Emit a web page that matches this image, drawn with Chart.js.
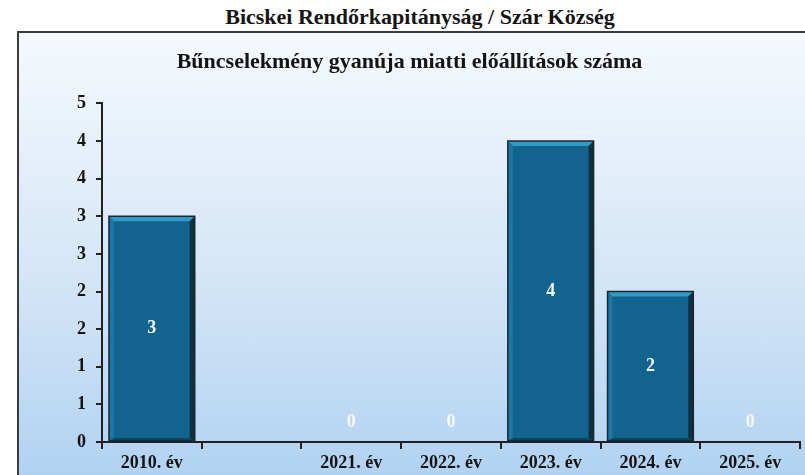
<!DOCTYPE html>
<html lang="hu">
<head>
<meta charset="utf-8">
<script src="https://cdn.jsdelivr.net/npm/chart.js@4.4.1/dist/chart.umd.min.js"></script>
<style>
  html, body { margin: 0; padding: 0; background: #fff; }
  body { width: 805px; height: 475px; position: relative; overflow: hidden; font-family: "Liberation Serif", serif; }
  #pageTitle { position: absolute; left: 0; width: 840px; top: 5px; text-align: center; font-weight: bold; font-size: 22px; line-height: 24px; color: #151515; }
  #frame { position: absolute; left: 17px; top: 31px; width: 800px; height: 460px; border-left: 2px solid #3c3c3c; border-top: 2px solid #3c3c3c; background: linear-gradient(180deg, #f5f9fd 0%, #e6f0fa 25%, #cfe3f6 60%, #aed0f0 100%); }
  #chartBox { position: absolute; left: 19px; top: 33px; width: 786px; height: 442px; }
</style>
</head>
<body>
<div id="pageTitle">Bicskei Rendőrkapitányság / Szár Község</div>
<div id="frame"></div>
<div id="chartBox"><canvas id="chart"></canvas></div>
<script>
const years = ["2010. év", "", "2021. év", "2022. év", "2023. év", "2024. év", "2025. év"];
const counts = [3, null, 0, 0, 4, 2, 0];
const chartTitle = "Bűncselekmény gyanúja miatti előállítások száma";
const yMax = 4.5;
const yStep = 0.5;

const axisColor = "#222";
const textColor = "#141414";
const serif = '"Liberation Serif", "Times New Roman", serif';

// bevelled look of the bars, drawn on top of the plain bar from the element geometry
const bevelBars = {
  id: "bevelBars",
  afterDatasetsDraw(chart) {
    const { ctx } = chart;
    const meta = chart.getDatasetMeta(0);
    ctx.save();
    meta.data.forEach((bar, i) => {
      if (!counts[i]) return;
      const l = bar.x - bar.width / 2;
      const r = bar.x + bar.width / 2;
      const t = bar.y;
      const b = bar.base;
      const d = 5;
      const poly = (pts, color) => {
        ctx.beginPath();
        ctx.moveTo(pts[0][0], pts[0][1]);
        pts.slice(1).forEach((p) => ctx.lineTo(p[0], p[1]));
        ctx.closePath();
        ctx.fillStyle = color;
        ctx.fill();
      };
      poly([[l, t], [r, t], [r - d, t + d], [l + d, t + d]], "#3599c6");
      poly([[l, t], [l + d, t + d], [l + d, b - 3], [l, b]], "#1a77a6");
      poly([[r, t], [r, b], [r - d, b - 3], [r - d, t + d]], "#10303f");
      poly([[l, b], [r, b], [r - d, b - 3], [l + d, b - 3]], "#0c4562");
      ctx.strokeStyle = "#1a2630";
      ctx.lineWidth = 1.5;
      ctx.strokeRect(l, t, r - l, b - t);
    });
    ctx.restore();
  },
};

const valueLabels = {
  id: "valueLabels",
  afterDatasetsDraw(chart) {
    const { ctx } = chart;
    const meta = chart.getDatasetMeta(0);
    ctx.save();
    ctx.font = "bold 18px " + serif;
    ctx.textAlign = "center";
    ctx.textBaseline = "middle";
    meta.data.forEach((bar, i) => {
      const v = counts[i];
      if (v === null) return;
      const y = v > 0 ? (bar.y + bar.base) / 2 : bar.base - 20;
      ctx.fillStyle = v > 0 ? "#f2f6f9" : "rgba(255, 255, 255, 0.85)";
      ctx.fillText(String(v), bar.x, y);
    });
    ctx.restore();
  },
};

new Chart(document.getElementById("chart"), {
  type: "bar",
  data: {
    labels: years,
    datasets: [
      {
        data: counts,
        backgroundColor: "#12648f",
        borderWidth: 0,
        barPercentage: 0.86,
        categoryPercentage: 1,
      },
    ],
  },
  options: {
    responsive: true,
    maintainAspectRatio: false,
    animation: false,
    layout: { padding: { left: 0, right: 5, top: 0, bottom: 0 } },
    plugins: {
      legend: { display: false },
      tooltip: { enabled: false },
      title: {
        display: true,
        text: chartTitle,
        color: textColor,
        font: { family: serif, size: 22, weight: "bold", lineHeight: 1.2 },
        padding: { top: 16, bottom: 28 },
      },
    },
    scales: {
      x: {
        grid: { drawOnChartArea: false, drawTicks: true, tickLength: 7, color: axisColor, lineWidth: 2, offset: true },
        border: { color: axisColor, width: 2 },
        ticks: { color: textColor, font: { family: serif, size: 18, weight: "bold" }, padding: 4, maxRotation: 0 },
        afterFit(scale) { scale.height = 33; },
      },
      y: {
        min: 0,
        max: yMax,
        grid: { drawOnChartArea: false, drawTicks: true, tickLength: 6, color: axisColor, lineWidth: 2 },
        border: { color: axisColor, width: 2 },
        ticks: {
          stepSize: yStep,
          color: textColor,
          font: { family: serif, size: 18, weight: "bold" },
          padding: 10,
          callback: (value) => Math.round(value),
        },
        afterFit(scale) { scale.width = 83; },
      },
    },
  },
  plugins: [bevelBars, valueLabels],
});
</script>
</body>
</html>
